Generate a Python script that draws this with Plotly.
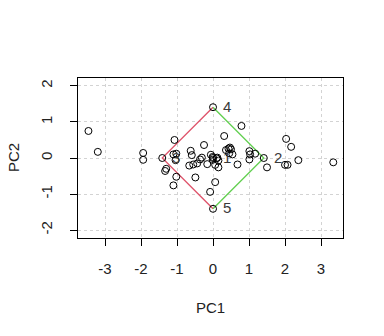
import plotly.graph_objects as go

# scores (PC1, PC2)
pc1 = [-3.46, -3.20, -1.94, -1.94, -1.07, -1.10, -1.02, -1.04, -1.30, -1.33,
       -1.02, -1.10, -0.62, -0.59, -0.25, -0.36, -0.44, -0.66, -0.55, -0.16,
       -0.49, -0.06, -0.01, 0.12, 0.06, 0.06, -0.08, 0.79, 0.31, 0.36,
       0.43, 0.47, 0.50, 0.54, 0.45, 0.10, 0.15, 0.15, -0.31, -0.01,
       0.68, 1.01, 1.03, 1.01, 1.17, 1.50, 2.03, 2.17, 2.00, 2.07,
       2.37, 3.34]
pc2 = [0.75, 0.17, 0.14, -0.05, 0.50, 0.10, 0.12, -0.06, -0.30, -0.36,
       -0.52, -0.76, 0.20, 0.08, 0.36, -0.04, -0.15, -0.21, -0.18, -0.17,
       -0.54, 0.09, 0.03, 0.01, -0.19, -0.67, -0.94, 0.89, 0.61, 0.22,
       0.26, 0.29, 0.24, 0.10, 0.13, -0.01, -0.07, -0.26, 0.01, -0.05,
       -0.18, 0.19, 0.10, -0.04, 0.12, -0.26, 0.53, 0.31, -0.19, -0.19,
       -0.06, -0.12]

# vertices
vx = [0.0, 1.41, -1.41, 0.0, 0.0]
vy = [0.0, 0.0, 0.0, 1.41, -1.41]
vlab = ["1", "2", "3", "4", "5"]

xticks = [-3, -2, -1, 0, 1, 2, 3]
yticks = [-2, -1, 0, 1, 2]

FONT = "Liberation Sans, Arial, sans-serif"
fig = go.Figure()

# red edges: 4 -> 3 -> 5
fig.add_trace(go.Scatter(x=[vx[3], vx[2], vx[4]], y=[vy[3], vy[2], vy[4]], mode="lines",
                         line=dict(color="#DF536B", width=1.3), hoverinfo="skip"))
# green edges: 4 -> 2 -> 5
fig.add_trace(go.Scatter(x=[vx[3], vx[1], vx[4]], y=[vy[3], vy[1], vy[4]], mode="lines",
                         line=dict(color="#61D04F", width=1.3), hoverinfo="skip"))

fig.add_trace(go.Scatter(x=pc1 + vx, y=pc2 + vy, mode="markers",
                         marker=dict(symbol="circle-open", size=7, color="black",
                                     line=dict(width=1, color="black"))))

for x, y, t in zip(vx, vy, vlab):
    fig.add_annotation(x=x, y=y, text=t, showarrow=False, xshift=14, yshift=1,
                       font=dict(family=FONT, size=15, color="#3a3a3a"))

fig.add_annotation(xref="paper", yref="paper", x=0.5, y=(238 - 307) / 160, text="PC1",
                   showarrow=False, xanchor="center", yanchor="middle",
                   font=dict(family=FONT, size=15, color="#222"))
fig.add_annotation(xref="paper", yref="paper", x=(13 - 78) / 265, y=0.5, text="PC2",
                   textangle=-90, showarrow=False, xanchor="center", yanchor="middle",
                   font=dict(family=FONT, size=15, color="#222"))

axis_common = dict(showline=True, linecolor="black", linewidth=1, mirror=True,
                   ticks="outside", ticklen=7, tickcolor="black", tickwidth=1,
                   showgrid=True, gridcolor="#D3D3D3", griddash="3px,3px", gridwidth=1,
                   zeroline=False, tickfont=dict(family=FONT, size=15, color="#222"))

fig.update_xaxes(range=[-3.75, 3.61], tickvals=xticks, ticktext=[str(v) for v in xticks],
                 ticklabelstandoff=10, **axis_common)
fig.update_yaxes(range=[-2.22, 2.22], tickvals=yticks, ticktext=[str(v) for v in yticks],
                 tickangle=-90, ticklabelstandoff=12, **axis_common)

fig.update_layout(width=384, height=336, showlegend=False,
                  margin=dict(l=78, r=41, t=78, b=98),
                  plot_bgcolor="white", paper_bgcolor="white")

fig.write_html("out.html")
